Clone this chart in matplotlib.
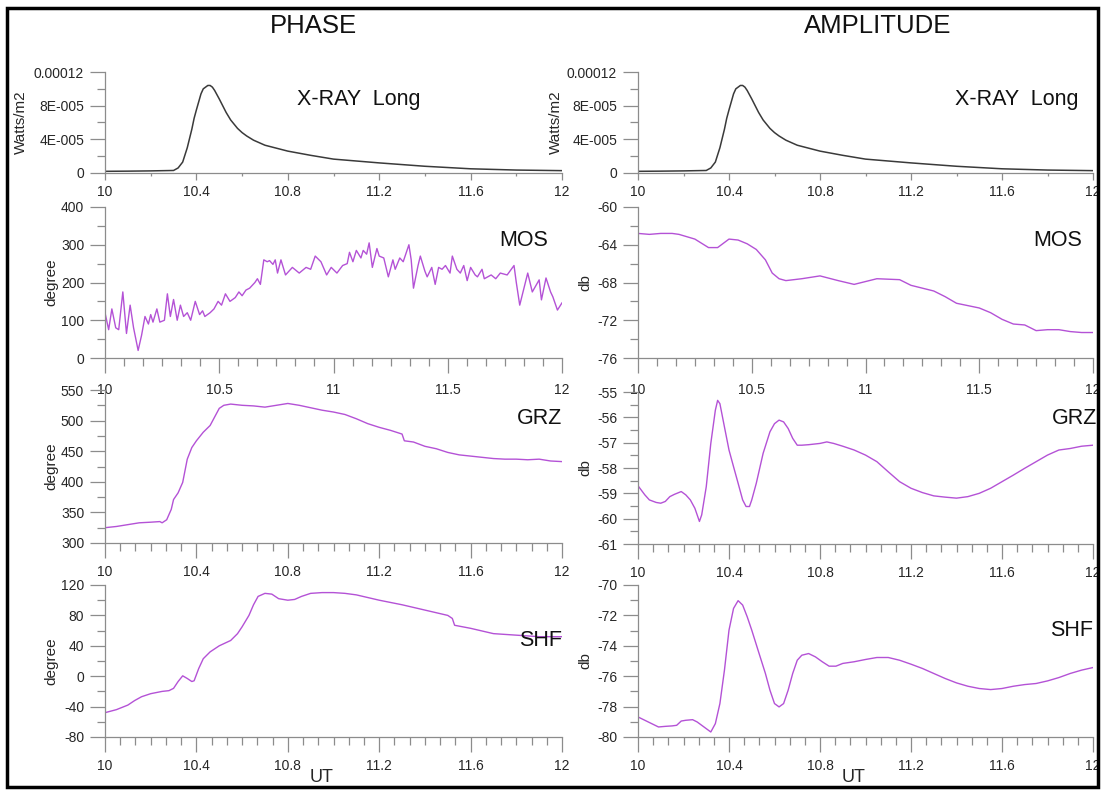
import matplotlib
matplotlib.use("Agg")
import matplotlib.pyplot as plt
from matplotlib.ticker import MultipleLocator, FuncFormatter, FixedLocator
from matplotlib.patches import Rectangle

plt.rcParams['font.family'] = ['Liberation Sans', 'DejaVu Sans']

# ---------------- data ----------------
xray_t = [10.0, 10.1, 10.2, 10.3, 10.32, 10.34, 10.36, 10.38, 10.39, 10.40, 10.42, 10.43, 10.45, 10.46,
          10.47, 10.48, 10.50, 10.53, 10.55, 10.58, 10.60, 10.62, 10.65, 10.70, 10.80, 10.90, 11.00,
          11.20, 11.40, 11.60, 11.80, 12.0]
xray_flux = [2e-6, 2.2e-6, 2.5e-6, 3e-6, 6e-6, 1.3e-5, 3e-5, 5.2e-5, 6.5e-5, 7.5e-5, 9.4e-5, 1.0e-4, 1.04e-4,
             1.04e-4, 1.02e-4, 9.8e-5, 8.8e-5, 7.2e-5, 6.3e-5, 5.3e-5, 4.8e-5, 4.4e-5, 3.9e-5, 3.3e-5,
             2.6e-5, 2.1e-5, 1.65e-5, 1.2e-5, 8e-6, 5e-6, 3.5e-6, 2.8e-6]

mos_phase_t = [10.0, 10.016, 10.03, 10.047, 10.06, 10.078, 10.094, 10.11, 10.125, 10.145, 10.16, 10.175,
               10.19, 10.20, 10.21, 10.227, 10.24, 10.26, 10.273, 10.286, 10.30, 10.316, 10.33, 10.344,
               10.36, 10.375, 10.395, 10.414, 10.427, 10.437, 10.46, 10.477, 10.495, 10.51, 10.527, 10.547,
               10.57, 10.586, 10.60, 10.617, 10.633, 10.656, 10.667, 10.68, 10.695, 10.71, 10.72, 10.735,
               10.745, 10.755, 10.77, 10.79, 10.82, 10.85, 10.88, 10.90, 10.92, 10.945, 10.97, 10.99,
               11.015, 11.04, 11.06, 11.07, 11.085, 11.10, 11.12, 11.13, 11.145, 11.156, 11.17, 11.19,
               11.20, 11.22, 11.24, 11.26, 11.27, 11.29, 11.305, 11.33, 11.34, 11.35, 11.37, 11.38,
               11.40, 11.41, 11.43, 11.445, 11.46, 11.475, 11.49, 11.51, 11.52, 11.54, 11.555, 11.57,
               11.585, 11.60, 11.62, 11.63, 11.65, 11.66, 11.69, 11.71, 11.73, 11.76, 11.79, 11.80,
               11.815, 11.85, 11.87, 11.90, 11.91, 11.93, 11.95, 11.96, 11.98, 12.0]
mos_phase_v = [120, 75, 130, 80, 75, 175, 65, 140, 80, 20, 60, 110,
               90, 115, 95, 130, 95, 100, 170, 110, 155, 100, 140, 110,
               120, 100, 150, 115, 125, 110, 120, 130, 150, 140, 170, 150,
               160, 175, 165, 180, 185, 200, 210, 195, 260, 255, 258, 248,
               260, 225, 260, 220, 240, 225, 240, 235, 270, 255, 220, 240,
               225, 245, 250, 280, 255, 285, 265, 285, 275, 305, 240, 290,
               270, 265, 215, 260, 235, 265, 255, 300, 260, 185, 245, 270,
               230, 215, 240, 195, 240, 235, 245, 225, 270, 235, 225, 245,
               205, 240, 220, 215, 235, 210, 220, 210, 225, 220, 245, 200,
               140, 225, 175, 207, 154, 212, 175, 162, 127, 146]

grz_phase_t = [10.0, 10.05, 10.1, 10.15, 10.2, 10.24, 10.25, 10.27, 10.29, 10.30, 10.32, 10.34, 10.36,
               10.38, 10.40, 10.43, 10.46, 10.48, 10.50, 10.52, 10.55, 10.60, 10.65, 10.70, 10.75, 10.80,
               10.85, 10.90, 10.95, 11.0, 11.05, 11.1, 11.15, 11.2, 11.25, 11.3, 11.31, 11.35, 11.4,
               11.45, 11.5, 11.55, 11.6, 11.65, 11.7, 11.75, 11.8, 11.85, 11.9, 11.95, 12.0]
grz_phase_v = [325, 327, 330, 333, 334, 335, 333, 338, 355, 371, 382, 399, 437,
               456, 467, 481, 492, 506, 520, 525, 527, 525, 524, 522, 525, 528,
               525, 521, 517, 514, 510, 503, 495, 489, 484, 478, 467, 465, 458,
               454, 448, 444, 442, 440, 438, 437, 437, 436, 437, 434, 433]

shf_phase_t = [10.0, 10.05, 10.1, 10.13, 10.16, 10.2, 10.25, 10.28, 10.3, 10.32, 10.34, 10.36, 10.38,
               10.39, 10.41, 10.43, 10.46, 10.5, 10.55, 10.58, 10.6, 10.63, 10.65, 10.67, 10.7, 10.73,
               10.76, 10.8, 10.83, 10.86, 10.9, 10.95, 11.0, 11.05, 11.1, 11.2, 11.3, 11.4, 11.5,
               11.52, 11.53, 11.6, 11.7, 11.8, 11.9, 12.0]
shf_phase_v = [-48, -44, -38, -32, -27, -23, -20, -19, -16, -7, 0.5, -3, -7,
               -6, 10, 23, 32, 40, 47, 56, 65, 80, 94, 105, 109, 108,
               102, 100, 101, 105, 109, 110, 110, 109, 107, 100, 94, 87, 80,
               76, 67, 63, 56, 54, 52, 52]

mos_amp_t = [10.0, 10.05, 10.1, 10.15, 10.18, 10.25, 10.31, 10.35, 10.40, 10.44, 10.48, 10.52,
             10.56, 10.59, 10.62, 10.65, 10.72, 10.8, 10.88, 10.95, 11.05, 11.15, 11.2, 11.3,
             11.35, 11.4, 11.5, 11.55, 11.6, 11.65, 11.7, 11.75, 11.8, 11.85, 11.9, 11.95, 12.0]
mos_amp_v = [-62.8, -62.9, -62.8, -62.8, -62.9, -63.4, -64.3, -64.3, -63.4, -63.5, -63.9, -64.5,
             -65.6, -67.0, -67.6, -67.8, -67.6, -67.3, -67.8, -68.2, -67.6, -67.7, -68.3, -68.9,
             -69.5, -70.2, -70.7, -71.2, -71.9, -72.4, -72.5, -73.1, -73.0, -73.0, -73.2, -73.3, -73.3]

grz_amp_t = [10.0, 10.03, 10.05, 10.08, 10.1, 10.12, 10.14, 10.16, 10.19, 10.21, 10.23, 10.25, 10.27,
             10.28, 10.30, 10.32, 10.34, 10.35, 10.36, 10.38, 10.40, 10.42, 10.44, 10.46, 10.475,
             10.49, 10.5, 10.52, 10.55, 10.58, 10.6, 10.62, 10.64, 10.66, 10.68, 10.7, 10.72, 10.75,
             10.8, 10.83, 10.86, 10.9, 10.95, 11.0, 11.05, 11.1, 11.15, 11.2, 11.25, 11.3, 11.35,
             11.4, 11.45, 11.5, 11.55, 11.6, 11.65, 11.7, 11.75, 11.8, 11.85, 11.9, 11.95, 12.0]
grz_amp_v = [-58.7, -59.06, -59.26, -59.36, -59.39, -59.32, -59.13, -59.04, -58.93, -59.06, -59.26,
             -59.59, -60.11, -59.85, -58.74, -57.03, -55.72, -55.33, -55.46, -56.38, -57.29, -57.95,
             -58.6, -59.26, -59.52, -59.52, -59.26, -58.6, -57.42, -56.57, -56.25, -56.11, -56.18,
             -56.44, -56.83, -57.1, -57.1, -57.08, -57.03, -56.97, -57.03, -57.14, -57.29, -57.49,
             -57.75, -58.15, -58.54, -58.8, -58.97, -59.1, -59.15, -59.19, -59.13, -59.0, -58.8,
             -58.54, -58.28, -58.01, -57.75, -57.49, -57.29, -57.23, -57.14, -57.1]

shf_amp_t = [10.0, 10.03, 10.06, 10.09, 10.12, 10.15, 10.17, 10.19, 10.21, 10.24, 10.26, 10.28, 10.30,
             10.32, 10.34, 10.36, 10.38, 10.40, 10.42, 10.44, 10.46, 10.48, 10.50, 10.53, 10.56,
             10.58, 10.60, 10.62, 10.64, 10.66, 10.68, 10.70, 10.72, 10.75, 10.78, 10.81, 10.84,
             10.87, 10.9, 10.95, 11.0, 11.05, 11.1, 11.15, 11.2, 11.25, 11.3, 11.35, 11.4, 11.45,
             11.5, 11.55, 11.6, 11.65, 11.7, 11.75, 11.8, 11.85, 11.9, 11.95, 12.0]
shf_amp_v = [-78.68, -78.9, -79.12, -79.34, -79.3, -79.27, -79.23, -78.95, -78.9, -78.86, -79.01,
             -79.23, -79.45, -79.67, -79.12, -77.8, -75.6, -72.97, -71.54, -71.03, -71.32, -72.09,
             -72.97, -74.4, -75.82, -76.92, -77.8, -78.02, -77.8, -76.92, -75.82, -74.95, -74.62,
             -74.51, -74.73, -75.05, -75.34, -75.34, -75.16, -75.05, -74.9, -74.77, -74.77, -74.95,
             -75.21, -75.49, -75.82, -76.15, -76.44, -76.66, -76.81, -76.88, -76.81, -76.66, -76.55,
             -76.48, -76.31, -76.09, -75.82, -75.6, -75.43]

xray_yticks = [0, 4e-5, 8e-5, 1.2e-4]
xray_yticklabels = ['0', '4E-005', '8E-005', '0.00012']

# ---------------- layout ----------------
W, H = 1105, 792
fig = plt.figure(figsize=(W / 100, H / 100), dpi=100)

def ax_at(x0, x1, top, bottom):
    return fig.add_axes([x0 / W, 1 - bottom / H, (x1 - x0) / W, (bottom - top) / H])

def ftext(x, y, s, **kw):
    fig.text(x / W, 1 - y / H, s, **kw)

SP = '#8c8c8c'
TXT = '#262626'
PURPLE = '#b452d6'

def style(ax, ylim, ymaj, ymin, xmaj, xmin, xtick_len=11, xpad=7):
    for s in ['top', 'right']:
        ax.spines[s].set_visible(False)
    for s in ['left', 'bottom']:
        ax.spines[s].set_color(SP)
        ax.spines[s].set_linewidth(0.9)
    ax.set_xlim(10, 12)
    ax.set_ylim(*ylim)
    ax.xaxis.set_major_locator(MultipleLocator(xmaj))
    ax.xaxis.set_minor_locator(MultipleLocator(xmin))
    ax.yaxis.set_major_locator(MultipleLocator(ymaj))
    ax.yaxis.set_minor_locator(MultipleLocator(ymin))
    ax.xaxis.set_major_formatter(FuncFormatter(lambda v, p: f'{v:g}'))
    ax.yaxis.set_major_formatter(FuncFormatter(lambda v, p: f'{v:g}'))
    ax.tick_params(axis='both', which='both', direction='out', color=SP, width=0.9,
                   labelsize=10, labelcolor=TXT)
    ax.tick_params(axis='y', which='major', length=11, pad=4)
    ax.tick_params(axis='y', which='minor', length=6)
    ax.tick_params(axis='x', which='major', length=xtick_len, pad=xpad)
    ax.tick_params(axis='x', which='minor', length=xtick_len / 2)
    ax.patch.set_alpha(0)

def ylab(ax, text, xcenter, x0):
    ax.set_ylabel(text, fontsize=11, color=TXT)
    ax.yaxis.set_label_coords((xcenter + 6 - x0) / (ax.get_position().width * W), 0.5)

LX0, LX1 = 105, 562
RX0, RX1 = 638, 1093
rows = [(72, 173), (207, 358), (390, 543), (585, 737)]
rows_r = [(72, 173), (207, 358), (392, 544), (585, 737)]

for col, (X0, X1, rr) in enumerate([(LX0, LX1, rows), (RX0, RX1, rows_r)]):
    deg_x = 52 if col == 0 else 586
    watt_x = 22 if col == 0 else 557
    # X-ray
    ax = ax_at(X0, X1, *rr[0])
    ax.plot(xray_t, xray_flux, color='#3a3a3a', lw=1.1)
    style(ax, (0, 1.2e-4), 4e-5, 2e-5, 0.4, 0.2, xtick_len=5, xpad=4)
    ax.yaxis.set_major_locator(FixedLocator(xray_yticks))
    ax.set_yticklabels(xray_yticklabels)
    ylab(ax, 'Watts/m2', watt_x, X0)
    # MOS
    ax = ax_at(X0, X1, *rr[1])
    if col == 0:
        ax.plot(mos_phase_t, mos_phase_v, color=PURPLE, lw=1.0)
        style(ax, (0, 400), 100, 50, 0.5, 0.5 / 6)
        ylab(ax, 'degree', deg_x, X0)
    else:
        ax.plot(mos_amp_t, mos_amp_v, color=PURPLE, lw=1.0)
        style(ax, (-76, -60), 4, 2, 0.5, 0.5 / 6)
        ylab(ax, 'db', deg_x, X0)
    # GRZ
    ax = ax_at(X0, X1, *rr[2])
    if col == 0:
        ax.plot(grz_phase_t, grz_phase_v, color=PURPLE, lw=1.0)
        style(ax, (300, 550), 50, 25, 0.4, 0.4 / 6, xpad=5)
        ylab(ax, 'degree', deg_x, X0)
    else:
        ax.plot(grz_amp_t, grz_amp_v, color=PURPLE, lw=1.0)
        style(ax, (-61, -55), 1, 0.5, 0.4, 0.4 / 6, xpad=5)
        ylab(ax, 'db', deg_x, X0)
    # SHF
    ax = ax_at(X0, X1, *rr[3])
    if col == 0:
        ax.plot(shf_phase_t, shf_phase_v, color=PURPLE, lw=1.0)
        style(ax, (-80, 120), 40, 20, 0.4, 0.4 / 6, xpad=5)
        ylab(ax, 'degree', deg_x, X0)
    else:
        ax.plot(shf_amp_t, shf_amp_v, color=PURPLE, lw=1.0)
        style(ax, (-80, -70), 2, 1, 0.4, 0.4 / 6, xpad=5)
        ylab(ax, 'db', deg_x, X0)
    ftext((X0 + X1) / 2 - 12, 777, 'UT', fontsize=13, ha='center', va='center', color=TXT)

# titles and panel labels
ftext(313, 26, 'PHASE', fontsize=18.5, ha='center', va='center', color='#111111')
ftext(878, 26, 'AMPLITUDE', fontsize=18.5, ha='center', va='center', color='#111111')
lab = dict(fontsize=15.5, va='center', color='#111111')
ftext(297, 99, 'X-RAY  Long', ha='left', **lab)
ftext(955, 99, 'X-RAY  Long', ha='left', **lab)
ftext(548, 240, 'MOS', ha='right', **lab)
ftext(1082, 240, 'MOS', ha='right', **lab)
ftext(562, 418, 'GRZ', ha='right', **lab)
ftext(1097, 418, 'GRZ', ha='right', **lab)
ftext(562, 640, 'SHF', ha='right', **lab)
ftext(1093, 630, 'SHF', ha='right', **lab)

# outer frame
fig.patches.append(Rectangle((7 / W, 1 - 787 / H), (1098 - 7) / W, (787 - 8) / H,
                             transform=fig.transFigure, fill=False, lw=2.5, ec='black'))

fig.savefig('out.png', dpi=100, facecolor='white')
